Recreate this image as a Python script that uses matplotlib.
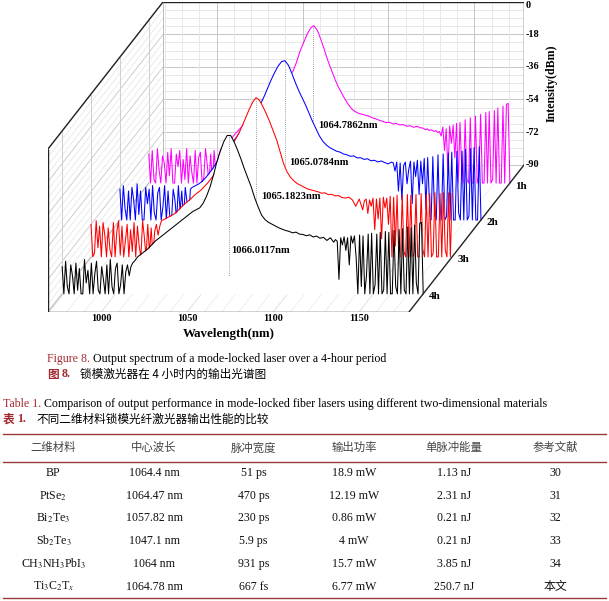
import numpy as np
import matplotlib.pyplot as plt
from matplotlib.lines import Line2D
from matplotlib.transforms import offset_copy

plt.rcParams['font.family'] = ['Liberation Serif', 'Noto Sans CJK SC']
plt.rcParams['mathtext.fontset'] = 'stix'

# ---- 光譜資料 (dBm) ----
# 左右兩段雜訊每 1 nm 一點，中間主峰每 2 nm 一點
wl_left = np.arange(969, 1011)
wl_main = np.arange(1011, 1128, 2)
wl_right = np.arange(1128, 1180)
wavelength = np.concatenate([wl_left, wl_main, wl_right])

hours = ['4h', '3h', '2h', '1h']
line_colors = ['black', 'red', 'blue', 'magenta']
peak_wl = [1066.0117, 1065.1823, 1065.0784, 1064.7862]

# 4h (黑)
left_4h = [
    -75, -90, -72, -86, -90, -74, -80, -90, -73, -88,
    -76, -90, -90, -71, -84, -77, -90, -73, -90, -79,
    -72, -88, -90, -75, -82, -90, -74, -90, -71, -86,
    -90, -76, -73, -90, -85, -74, -90, -78, -74, -80,
    -75, -73]
main_4h = [
    -72, -69.5, -68, -66.5, -65, -63, -61, -59.5, -58,
    -56.5, -55, -53.5, -52, -50.5, -49, -47.5, -46, -44.5, -43.5,
    -42.5, -40, -36, -31, -24.5, -17, -11, -6, -2.5, -2.5,
    -6, -10.5, -15.5, -21, -26, -31, -37, -42, -46.5, -49,
    -50.5, -51.5, -52.5, -53.5, -54.3, -55, -55.5, -56.3, -55.9, -57,
    -57.2, -57.9, -57.4, -58.6, -58.1, -59.3, -58.8, -60.5, -59, -61.5]
right_4h = [
    -60, -61, -82, -59, -63, -58.5, -66, -59, -74, -58,
    -62, -58, -70, -90, -57.5, -86, -58, -90, -80, -57,
    -90, -56.5, -90, -85, -57, -90, -56, -90, -88, -55.5,
    -90, -56, -90, -90, -55, -86, -90, -54.5, -90, -54,
    -88, -90, -53, -90, -53.5, -90, -52, -84, -90, -51,
    -50.5, -90]

# 3h (紅)
left_3h = [
    -72, -90, -88, -70, -85, -73, -90, -71, -78, -90,
    -74, -86, -90, -71, -90, -76, -70, -89, -73, -90,
    -81, -72, -90, -75, -87, -71, -90, -73, -84, -90,
    -70, -79, -90, -72, -88, -74, -90, -76, -72, -78,
    -73, -70]
main_3h = [
    -69.5, -68.5, -67.5, -66.5, -65, -63, -61, -59.5, -58,
    -56, -54.5, -53, -51, -49, -46.5, -44, -41.5, -38.5, -35.5,
    -32, -28.5, -25, -21.5, -17.5, -13, -8.5, -4.5, -2, -3.5,
    -7, -11, -15.5, -20.5, -25.5, -32, -38.5, -43, -46, -48,
    -49.5, -50.5, -51.5, -52.5, -53, -53.5, -54, -54.8, -54.6, -55.6,
    -55.4, -56.3, -56.1, -57.2, -57.5, -57, -58.5, -62, -58, -64]
right_3h = [
    -59, -58, -66, -58.5, -62, -57.5, -75, -58, -69, -57.5,
    -80, -57, -63, -57.5, -72, -56.5, -90, -57, -84, -56,
    -90, -90, -56, -87, -90, -55.5, -90, -56, -90, -88,
    -55.5, -90, -90, -55, -86, -90, -55.5, -90, -55, -90,
    -88, -54.5, -90, -90, -55, -90, -54.5, -86, -90, -54.5,
    -90, -55]

# 2h (藍)
left_2h = [
    -73, -90, -71, -84, -90, -74, -90, -72, -79, -90,
    -70, -87, -74, -90, -90, -72, -81, -73, -90, -71,
    -86, -90, -75, -72, -90, -83, -71, -90, -74, -88,
    -90, -73, -79, -90, -71, -85, -74, -90, -72, -80,
    -90, -73]
main_2h = [
    -72, -71, -70, -68.5, -66.5, -64, -61.5, -58.5, -56,
    -54, -51.5, -49, -46.5, -44, -41.5, -39, -36.5, -34, -31,
    -28.5, -25.5, -21.5, -17, -12.5, -8.5, -5, -2.5, -2, -4.5,
    -9, -14, -18.5, -22.5, -26.5, -31, -35.5, -39.5, -43.5, -46.5,
    -48.5, -50, -51, -52, -52.5, -53.5, -54, -54.8, -54.6, -55.7,
    -55.6, -56.5, -56.2, -57.3, -57, -57.9, -57.4, -58.3, -59, -58]
right_2h = [
    -58.5, -63, -58, -74, -58.5, -79, -60, -58, -70, -62,
    -57.5, -81, -58, -66, -57, -76, -57.5, -70, -56, -84,
    -55.5, -80, -90, -55, -87, -90, -54, -90, -90, -53.5,
    -90, -88, -53, -90, -52.5, -90, -90, -52, -86, -90,
    -52, -90, -51, -90, -88, -50.5, -90, -50, -90, -90,
    -49.5, -90]

# 1h (洋紅)
left_1h = [
    -74, -90, -72, -88, -90, -71, -83, -90, -75, -79,
    -90, -73, -86, -71, -90, -90, -74, -81, -72, -90,
    -77, -88, -71, -90, -75, -84, -90, -72, -90, -76,
    -73, -90, -87, -71, -80, -90, -74, -90, -72, -85,
    -78, -74]
main_1h = [
    -71.5, -70, -68, -65.5, -63, -61, -59, -57, -55.5,
    -54, -52, -50, -48, -46, -44, -41.5, -39.5, -37, -35,
    -32.5, -30.5, -28, -23, -17, -12.5, -8, -4.5, -3, -5.5,
    -10.5, -16, -22, -27, -32, -36.5, -40, -43.5, -46.5, -49,
    -50.5, -51.5, -52, -52.5, -53, -54, -54.5, -55.3, -55.9, -56.6,
    -56.4, -57.3, -57.1, -57.9, -57.7, -58.6, -58.3, -59.2, -58.6, -59.5]
right_1h = [
    -59.5, -60, -60.5, -60, -61, -60.5, -61, -61.5, -61, -62,
    -61.5, -64, -59, -72, -60, -84, -58.5, -68, -58, -76,
    -57, -90, -56.5, -82, -90, -55, -88, -90, -54, -90,
    -90, -53, -90, -86, -52, -90, -90, -51, -90, -50.5,
    -90, -88, -50, -90, -48.5, -90, -90, -47.5, -90, -46.5,
    -46, -90]

spectra = [left_4h + main_4h + right_4h,
           left_3h + main_3h + right_3h,
           left_2h + main_2h + right_2h,
           left_1h + main_1h + right_1h]

# ---- 表格資料 ----
table_head = ['二维材料', '中心波长', '脉冲宽度', '输出功率', '单脉冲能量', '参考文献']
materials = ['BP', 'PtSe$_2$', 'Bi$_2$Te$_3$', 'Sb$_2$Te$_3$', 'CH$_3$NH$_3$PbI$_3$', 'Ti$_3$C$_2$T$_x$']
center_wl = ['1064.4 nm', '1064.47 nm', '1057.82 nm', '1047.1 nm', '1064 nm', '1064.78 nm']
pulse_width = ['51 ps', '470 ps', '230 ps', '5.9 ps', '931 ps', '667 fs']
out_power = ['18.9 mW', '12.19 mW', '0.86 mW', '4 mW', '15.7 mW', '6.77 mW']
pulse_energy = ['1.13 nJ', '2.31 nJ', '0.21 nJ', '0.21 nJ', '3.85 nJ', '250.7 nJ']
refs = ['30', '31', '32', '33', '34', '本文']

W, H = 609, 601
RED = '#a3282e'
fig = plt.figure(figsize=(W / 100, H / 100), dpi=100)

# ---- 斜投影的 3D 框 ----
WL0, WL1 = 969, 1179
DB0, DB1 = -90, 0
DX, DY = 16.8, 20.4      # 每一格深度在 x (nm) 與 y (dB) 的位移
BACK = 4
depths = [0.5, 1.5, 2.5, 3.5]
bx, by = BACK * DX, BACK * DY

left, right, top, bottom = 47.7, 524.3, 1.7, 312.3
ax = fig.add_axes([left / W, 1 - bottom / H, (right - left) / W, (bottom - top) / H])
ax.set_xlim(WL0, WL1 + bx)
ax.set_ylim(DB0, DB1 + by)
ax.set_axis_off()

# 強度格線：後牆水平線 + 左牆斜線
for v in np.arange(-90, 0.1, 4.5):
    major = (v % 18 == 0)
    c = '#c6c6c6' if major else '#e8e8e8'
    ax.plot([WL0 + bx, WL1 + bx], [v + by, v + by], color=c, lw=0.7, zorder=0)
    ax.plot([WL0, WL0 + bx], [v, v + by], color=c, lw=0.6, zorder=0)

# 波長格線：後牆直線 + 地板斜線
for wl in range(970, 1179, 10):
    major = (wl % 50 == 0)
    c = '#c6c6c6' if major else '#e8e8e8'
    ax.plot([wl + bx, wl + bx], [DB0 + by, DB1 + by], color=c, lw=0.7, zorder=0)
    ax.plot([wl, wl + bx], [DB0, DB0 + by], color='#dcdcdc' if major else '#ececec', lw=0.6, zorder=0)

# 左牆上每個時間的直線
for d in depths:
    ax.plot([WL0 + d * DX] * 2, [DB0 + d * DY, DB1 + d * DY], color='#cfcfcf', lw=0.7, zorder=0)

ax.plot([WL0 + bx] * 2, [DB0 + by, DB1 + by], color='#bbbbbb', lw=0.7, zorder=0)
ax.plot([WL0, WL0 + bx], [DB0, DB0 + by], color='#bbbbbb', lw=0.7, zorder=0)

# 黑色外框
frame = dict(color='#222222', lw=1.0, zorder=12, solid_capstyle='butt')
ax.plot([WL0, WL1], [DB0, DB0], **frame)
ax.plot([WL0, WL0], [DB0, DB1], **frame)
ax.plot([WL0, WL0 + bx], [DB1, DB1 + by], **frame)
ax.plot([WL0 + bx, WL1 + bx], [DB1 + by, DB1 + by], **frame)
ax.plot([WL1 + bx, WL1 + bx], [DB0 + by, DB1 + by], **frame)
ax.plot([WL1, WL1 + bx], [DB0, DB0 + by], **frame)

# ---- 四條光譜，由後往前畫 ----
label_db = [-65.8, -56.5, -58.4, -58.3]
label_dx = [1.5, 2.5, 2.5, 2.9]
for k in range(3, -1, -1):
    d = depths[k]
    spec = np.array(spectra[k])
    xs = wavelength + d * DX
    ys = spec + d * DY
    z = 8 - 2 * k
    ax.fill_between(xs, DB0 + d * DY, ys, color='white', lw=0, zorder=z)
    ax.plot([peak_wl[k] + d * DX] * 2, [spec.max() + d * DY, -80 + d * DY],
            color='#808080', lw=0.6, ls=(0, (1, 1.5)), zorder=z + 0.3)
    ax.plot(xs, ys, color=line_colors[k], lw=0.75, zorder=z + 0.6)
    ax.text(peak_wl[k] + d * DX + label_dx[k], label_db[k] + d * DY, f'{peak_wl[k]:.4f}nm',
            fontsize=7.6, fontweight='bold', ha='left', va='center', zorder=20)

# 刻度文字
tr_down = offset_copy(ax.transData, fig=fig, x=0, y=-6.5, units='dots')
for wl in [1000, 1050, 1100, 1150]:
    ax.text(wl, DB0, str(wl), transform=tr_down, ha='center', va='center',
            fontsize=7.4, fontweight='bold')

for v in [0, -18, -36, -54, -72, -90]:
    tr_right = offset_copy(ax.transData, fig=fig, x=1.5, y=-3.5 if v == 0 else 0, units='dots')
    ax.text(WL1 + bx, v + by, str(v), transform=tr_right, ha='left', va='center',
            fontsize=7.4, fontweight='bold')

tr_depth = offset_copy(ax.transData, fig=fig, x=5.5, y=-3, units='dots')
for d, h in zip(depths, hours):
    ax.text(WL1 + d * DX, DB0 + d * DY, h, transform=tr_depth, ha='left', va='center',
            fontsize=8, fontweight='bold')

fig.text(228.7 / W, 1 - 334.3 / H, 'Wavelength(nm)', ha='center', va='center',
         fontsize=9.3, fontweight='bold')
fig.text(551.7 / W, 1 - 83.5 / H, 'Intensity(dBm)', ha='center', va='center',
         rotation=90, fontsize=8.6, fontweight='bold')

# ---- 圖說與表說 ----
renderer = fig.canvas.get_renderer()


def runs(x, y, parts):
    for s, kw, gap in parts:
        t = fig.text(x / W, 1 - y / H, s, ha='left', va='center', **kw)
        x += t.get_window_extent(renderer=renderer).width + gap


cjk = ['Noto Sans CJK SC']
runs(46.7, 359, [('Figure 8.', dict(color=RED, fontsize=8.6), 3.2),
                 ('Output spectrum of a mode-locked laser over a 4-hour period',
                  dict(color='black', fontsize=8.6), 0)])
runs(46.7, 374.3, [('图', dict(color=RED, fontsize=8.4, fontweight='bold', family=cjk), 3.5),
                   ('8.', dict(color=RED, fontsize=8.6, fontweight='bold'), 9),
                   ('锁模激光器在 4 小时内的输出光谱图', dict(color='black', fontsize=8.4, family=cjk), 0)])
runs(2.7, 404.3, [('Table 1.', dict(color=RED, fontsize=8.6), 3.2),
                  ('Comparison of output performance in mode-locked fiber lasers using '
                   'different two-dimensional materials', dict(color='black', fontsize=8.6), 0)])
runs(2.7, 419, [('表', dict(color=RED, fontsize=8.4, fontweight='bold', family=cjk), 2.5),
                ('1.', dict(color=RED, fontsize=8.6, fontweight='bold'), 11),
                ('不同二维材料锁模光纤激光器输出性能的比较', dict(color='black', fontsize=8.4, family=cjk), 0)])

# ---- 表格 ----
for yl in [434.3, 461.7, 598.3]:
    fig.add_artist(Line2D([3.3 / W, 606 / W], [1 - yl / H] * 2, color='#9b3a3a',
                          lw=1.0, transform=fig.transFigure))

col_x = [53.4, 154, 253.4, 354, 454.2, 555.6]
row_y = [473.3, 496, 518.3, 541, 564, 586.7]
for cx, s in zip(col_x, table_head):
    fig.text(cx / W, 1 - 447.7 / H, s, ha='center', va='center', fontsize=8.2,
             color='#444444', family=cjk)
columns = [materials, center_wl, pulse_width, out_power, pulse_energy, refs]
for cx, col in zip(col_x, columns):
    for ry, s in zip(row_y, col):
        fig.text(cx / W, 1 - ry / H, s, ha='center', va='center', fontsize=8.6, color='#111111')

fig.savefig('out.png', dpi=100)
